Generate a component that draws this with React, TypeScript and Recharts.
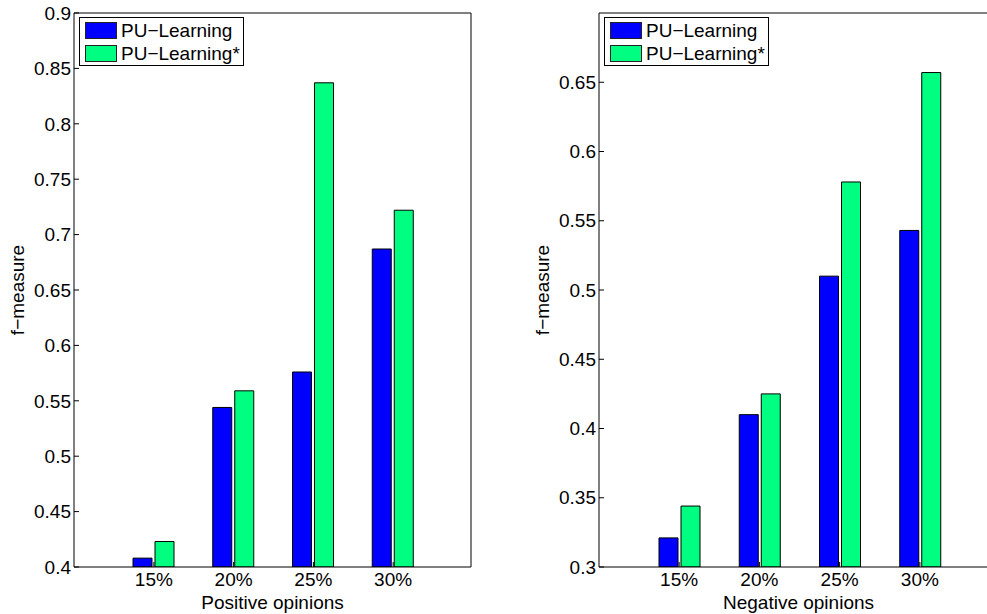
import { Bar, BarChart, Legend, XAxis, YAxis } from "recharts"

const categories = ["15%", "20%", "25%", "30%"]
const positivePU = [0.408, 0.544, 0.576, 0.687]
const positivePUStar = [0.423, 0.559, 0.837, 0.722]
const negativePU = [0.321, 0.41, 0.51, 0.543]
const negativePUStar = [0.344, 0.425, 0.578, 0.657]
const positiveTicks = [0.4, 0.45, 0.5, 0.55, 0.6, 0.65, 0.7, 0.75, 0.8, 0.85, 0.9]
const negativeTicks = [0.3, 0.35, 0.4, 0.45, 0.5, 0.55, 0.6, 0.65]

const font = "'Liberation Sans', Arial, sans-serif"
const fontSize = 19

function LegendBox({ payload }: any) {
  return (
    <div
      style={{
        display: "inline-block",
        boxSizing: "border-box",
        border: "1px solid #000",
        background: "#fff",
        padding: "1px 3px 0 5px",
        fontFamily: font,
        fontSize,
        color: "#000",
      }}
    >
      {(payload || []).map((p: any) => (
        <div key={p.value} style={{ display: "flex", alignItems: "center", height: 23, whiteSpace: "nowrap" }}>
          <span
            style={{
              width: 32,
              height: 17,
              background: p.color,
              border: "1px solid #222",
              boxSizing: "border-box",
              marginRight: 4,
            }}
          />
          <span>{p.value}</span>
        </div>
      ))}
    </div>
  )
}

type PanelProps = {
  left: number
  width: number
  pu: number[]
  star: number[]
  domain: [number, number]
  ticks: number[]
  xLabel: string
}

function Panel({ left, width, pu, star, domain, ticks, xLabel }: PanelProps) {
  const data = categories.map((name, i) => ({ name, pu: pu[i], star: star[i] }))
  const tickStyle = { fill: "#000", fontSize, fontFamily: font }
  return (
    <div style={{ position: "absolute", left, top: 0 }}>
      <BarChart
        width={width}
        height={614}
        data={data}
        margin={{ top: 0, right: 7, bottom: 0, left: 0 }}
        barSize={19}
        barGap={3}
      >
        <XAxis
          dataKey="name"
          height={47}
          padding={{ left: 40, right: 38 }}
          stroke="#000"
          tickSize={-5}
          tickMargin={11}
          interval={0}
          tick={tickStyle}
          label={{ value: xLabel, position: "insideBottom", offset: 5, fill: "#000", fontSize, fontFamily: font }}
        />
        <XAxis
          xAxisId="top"
          orientation="top"
          dataKey="name"
          height={13}
          padding={{ left: 40, right: 38 }}
          stroke="#000"
          tickSize={-5}
          interval={0}
          tick={false}
        />
        <YAxis
          type="number"
          width={74}
          domain={domain}
          ticks={ticks}
          allowDataOverflow
          stroke="#000"
          tickSize={-5}
          tickMargin={8}
          interval={0}
          tick={tickStyle}
          label={{
            value: "f−measure",
            angle: -90,
            position: "insideLeft",
            offset: 17,
            fill: "#000",
            fontSize,
            fontFamily: font,
            style: { textAnchor: "middle" },
          }}
        />
        <YAxis
          yAxisId="right"
          orientation="right"
          type="number"
          width={1}
          domain={domain}
          ticks={ticks}
          allowDataOverflow
          stroke="#000"
          tickSize={-5}
          interval={0}
          tick={false}
        />
        <Legend
          layout="horizontal"
          verticalAlign="middle"
          align="center"
          wrapperStyle={{ left: 79, top: 17, width: "auto", height: "auto" }}
          content={<LegendBox />}
        />
        <Bar dataKey="pu" name="PU−Learning" fill="#0000ff" stroke="#000" strokeWidth={1} isAnimationActive={false} />
        <Bar dataKey="star" name="PU−Learning*" fill="#00ff80" stroke="#000" strokeWidth={1} isAnimationActive={false} />
      </BarChart>
    </div>
  )
}

export default function App() {
  return (
    <div
      style={{
        position: "absolute",
        left: 0,
        top: 0,
        width: 987,
        height: 614,
        overflow: "hidden",
        background: "#fff",
        fontFamily: font,
      }}
    >
      <Panel
        left={0}
        width={479}
        pu={positivePU}
        star={positivePUStar}
        domain={[0.4, 0.9]}
        ticks={positiveTicks}
        xLabel="Positive opinions"
      />
      <Panel
        left={525}
        width={481}
        pu={negativePU}
        star={negativePUStar}
        domain={[0.3, 0.7]}
        ticks={negativeTicks}
        xLabel="Negative opinions"
      />
    </div>
  )
}
